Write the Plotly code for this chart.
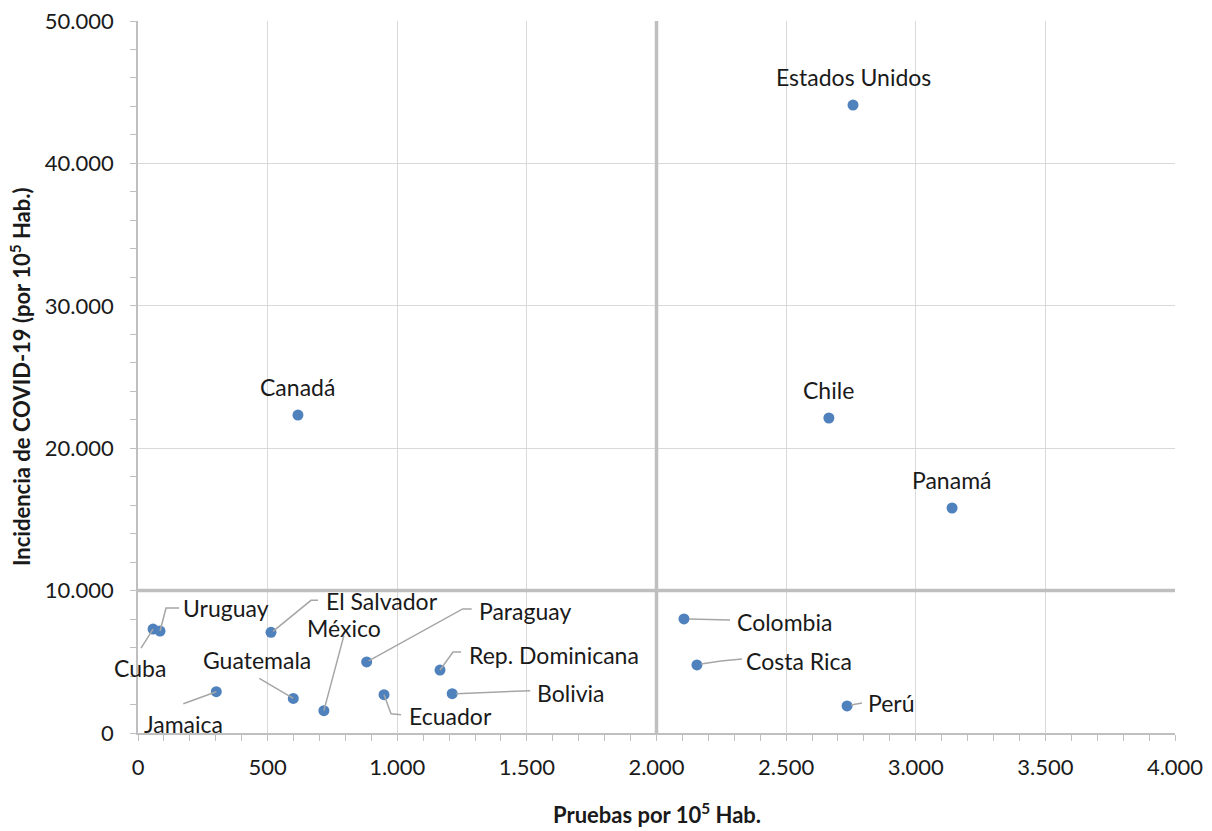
import plotly.graph_objects as go

# Tests performed vs. COVID-19 incidence (both per 100,000 inhabitants)
paises = [
    "Estados Unidos", "Canadá", "Chile", "Panamá", "Colombia", "Costa Rica",
    "Perú", "Cuba", "Uruguay", "El Salvador", "México", "Guatemala",
    "Jamaica", "Paraguay", "Ecuador", "Rep. Dominicana", "Bolivia",
]
pruebas = [
    2758, 617, 2665, 3140, 2106, 2156,
    2735, 58, 85, 513, 717, 599,
    302, 882, 949, 1165, 1212,
]
incidencia = [
    44100, 22330, 22120, 15800, 8010, 4780,
    1900, 7300, 7160, 7070, 1570, 2430,
    2900, 4990, 2690, 4420, 2760,
]

# Quadrant split lines
corte_x = 2000
corte_y = 10000

# Label placement: text-centre offset (px, screen y down) and leader polyline
etiquetas = {
    "Estados Unidos": ((0, -28), None),
    "Canadá": ((0, -28), None),
    "Chile": ((0, -28), None),
    "Panamá": ((0, -28), None),
    "Colombia": ((101, 3), [(5, 0), (46, 1)]),
    "Costa Rica": ((102, -4), [(4, -1), (24, -4), (45, -6)]),
    "Perú": ((44, -3), [(4, -1), (15, -3)]),
    "Cuba": ((-13, 39), [(0, 0), (-12, 19)]),
    "Uruguay": ((66, -23), [(0, 0), (6, -23), (19, -23)]),
    "El Salvador": ((111, -31), [(2, -1), (40, -32), (47, -32)]),
    "México": ((20, -83), [(0, 0), (20, -75)]),
    "Guatemala": ((-36, -38), [(0, 0), (-34, -20)]),
    "Jamaica": ((-33, 32), [(0, 0), (-33, 12)]),
    "Paraguay": ((158, -51), [(2, -1), (96, -53), (105, -53)]),
    "Ecuador": ((66, 21), [(0, 0), (7, 19), (17, 20)]),
    "Rep. Dominicana": ((114, -15), [(0, 0), (13, -18), (21, -18)]),
    "Bolivia": ((119, -1), [(4, 0), (78, -3)]),
}

FONT = "Lato"
GRID = "#d9d9d9"
AXIS = "#bfbfbf"
TEXT = "#1a1a1a"
LEADER = "#a6a6a6"
MARKER = "#4f81bd"

fig = go.Figure()

# Quadrant divider lines
fig.add_trace(go.Scatter(
    x=[corte_x, corte_x], y=[0, 50000], mode="lines",
    line=dict(color=AXIS, width=3.5), hoverinfo="skip", showlegend=False,
))
fig.add_trace(go.Scatter(
    x=[0, 4000], y=[corte_y, corte_y], mode="lines",
    line=dict(color=AXIS, width=3.5), hoverinfo="skip", showlegend=False,
))

# Leader lines, anchored at each point with pixel offsets
for p, xv, yv in zip(paises, pruebas, incidencia):
    (dx, dy), lider = etiquetas[p]
    if lider:
        path = "M " + " L ".join(f"{px},{-py}" for px, py in lider)
        fig.add_shape(
            type="path", path=path,
            xsizemode="pixel", ysizemode="pixel",
            xanchor=xv, yanchor=yv, xref="x", yref="y",
            line=dict(color=LEADER, width=1.5), layer="above",
        )

fig.add_trace(go.Scatter(
    x=pruebas, y=incidencia, mode="markers", text=paises,
    marker=dict(color=MARKER, size=11),
    hovertemplate="%{text}<br>%{x:,}<br>%{y:,}<extra></extra>",
    showlegend=False,
))

for p, xv, yv in zip(paises, pruebas, incidencia):
    (dx, dy), _ = etiquetas[p]
    fig.add_annotation(
        x=xv, y=yv, xref="x", yref="y", text=p, showarrow=False,
        xshift=dx, yshift=-dy, xanchor="center", yanchor="middle",
        font=dict(family=FONT, size=23, color=TEXT),
    )

# Axis titles
fig.add_annotation(
    x=0.5, y=0, xref="paper", yref="paper", yshift=-80,
    xanchor="center", yanchor="middle", showarrow=False,
    text="<b>Pruebas por 10<sup>5</sup> Hab.</b>",
    font=dict(family=FONT, size=22, color=TEXT),
)
fig.add_annotation(
    x=0, y=0.5, xref="paper", yref="paper", xshift=-118,
    xanchor="center", yanchor="middle", showarrow=False, textangle=-90,
    text="<b>Incidencia de COVID-19 (por 10<sup>5</sup> Hab.)</b>",
    font=dict(family=FONT, size=22, color=TEXT),
)

fig.update_layout(
    width=1212, height=831,
    margin=dict(l=138, r=37, t=21, b=98),
    paper_bgcolor="white", plot_bgcolor="white",
    separators=",.",
    font=dict(family=FONT, color=TEXT),
)

fig.update_xaxes(
    range=[0, 4000], dtick=500, tickformat=",d", automargin=False,
    showgrid=True, gridcolor=GRID, gridwidth=1,
    showline=True, linecolor=AXIS, linewidth=1.5,
    zeroline=False,
    ticks="outside", ticklen=6, tickcolor=AXIS, tickwidth=1,
    minor=dict(dtick=100, ticks="outside", ticklen=6, tickcolor=AXIS, showgrid=False),
    tickfont=dict(family=FONT, size=22, color=TEXT),
    ticklabelstandoff=8,
)
fig.update_yaxes(
    range=[0, 50000], dtick=10000, tickformat=",d", automargin=False,
    showgrid=True, gridcolor=GRID, gridwidth=1,
    showline=True, linecolor=AXIS, linewidth=1.5,
    zeroline=False,
    ticks="outside", ticklen=6, tickcolor=AXIS, tickwidth=1,
    minor=dict(dtick=2000, ticks="outside", ticklen=6, tickcolor=AXIS, showgrid=False),
    tickfont=dict(family=FONT, size=22, color=TEXT),
    ticklabelstandoff=12,
)

fig.write_html("out.html")
